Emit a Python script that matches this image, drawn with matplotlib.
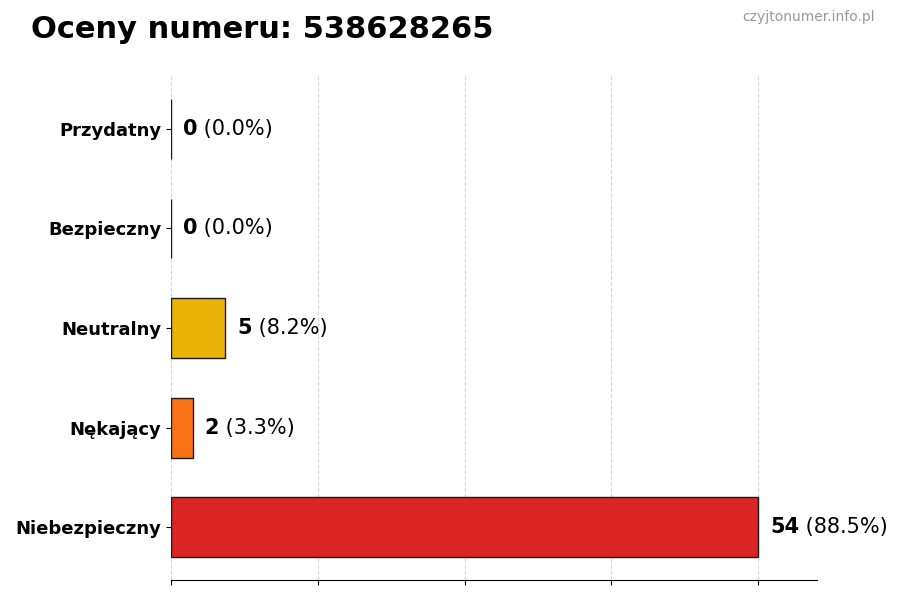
import matplotlib
matplotlib.use("Agg")
import matplotlib.pyplot as plt
import numpy as np

categories = ["Niebezpieczny", "Nękający", "Neutralny", "Bezpieczny", "Przydatny"]
values = [54, 2, 5, 0, 0]
colors = ["#dc2626", "#f97316", "#eab308", "#22c55e", "#16a34a"]
title = "Oceny numeru: 538628265"
watermark = "czyjtonumer.info.pl"

total = sum(values)
vmax = max(values)

fig = plt.figure(figsize=(9, 6), dpi=100)
ax = fig.add_axes([0.19, 0.0333, 0.7178, 0.84])

y = np.arange(len(categories))
ax.barh(y, values, height=0.6, color=colors, edgecolor="#1a1a1a", linewidth=1)
ax.set_yticks(y)
ax.set_yticklabels(categories, fontsize=13, fontweight="bold")
ax.set_xlim(0, vmax * 1.1)
ax.set_xticks(np.linspace(0, vmax, 5))
ax.set_xticklabels([])
ax.grid(axis="x", linestyle="--", color="#cccccc", linewidth=0.8, alpha=0.8)
ax.set_axisbelow(True)
for s in ["top", "right", "left"]:
    ax.spines[s].set_visible(False)

for yi, v in zip(y, values):
    pct = v / total * 100 if total else 0
    t = ax.text(v + vmax * 0.02, yi, f"{v}", fontsize=15, fontweight="bold",
                va="center", ha="left")
    ax.annotate(f" ({pct:.1f}%)", xy=(1, 0.5), xycoords=t, fontsize=15,
                va="center", ha="left")

fig.text(31 / 900, 1 - 30 / 600, title, fontsize=22, fontweight="bold",
         va="center", ha="left")
fig.text(875 / 900, 1 - 17 / 600, watermark, fontsize=10, color="#999999",
         va="center", ha="right")

fig.savefig("out.png", dpi=100)
